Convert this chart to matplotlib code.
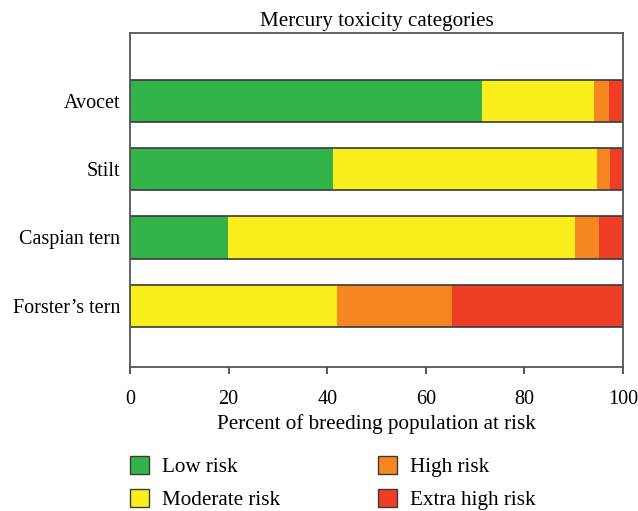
import matplotlib
matplotlib.use("Agg")
import matplotlib.pyplot as plt
from matplotlib.patches import Patch
import numpy as np

species = ["Avocet", "Stilt", "Caspian tern", "Forster\u2019s tern"]
categories = ["Low risk", "Moderate risk", "High risk", "Extra high risk"]
low = [71.4, 41.2, 19.9, 0.0]
moderate = [22.7, 53.5, 70.4, 42.0]
high = [3.1, 2.7, 4.8, 23.3]
extra_high = [2.8, 2.6, 4.9, 34.7]
colors = ["#33b44a", "#fbee1d", "#f68622", "#ef3e26"]
xticks = [0, 20, 40, 60, 80, 100]

plt.rcParams['font.family'] = ['Liberation Serif', 'DejaVu Serif']
FS = 14.5
FS2 = 15.2

fig = plt.figure(figsize=(6.38, 5.11), dpi=100)
ax = fig.add_axes([0.2038, 0.2818, 0.7727, 0.6536])

y = np.arange(len(species))
series = [low, moderate, high, extra_high]
left = np.zeros(len(species))
for vals, col in zip(series, colors):
    ax.barh(y, vals, left=left, height=0.62, color=col, edgecolor='none')
    left = left + np.array(vals)
ax.barh(y, left, height=0.62, fill=False, edgecolor='#3a3a3a', linewidth=1.2)

ax.set_xlim(0, 100)
ax.set_ylim(3.9, -1.0)
ax.set_yticks(y)
ax.set_yticklabels(species, fontsize=FS)
ax.tick_params(axis='y', length=0, pad=7)
ax.set_xticks(xticks)
ax.set_xticklabels([str(t) for t in xticks], fontsize=FS)
ax.tick_params(axis='x', direction='out', length=5, width=1.2, color='#3a3a3a', pad=11.5)
for s in ax.spines.values():
    s.set_color('#555555')
    s.set_linewidth(1.3)

ax.set_title("Mercury toxicity categories", fontsize=FS2, pad=5)
ax.set_xlabel("Percent of breeding population at risk", fontsize=FS2, labelpad=4)

handles = [Patch(facecolor=c, edgecolor='#3a3a3a', linewidth=1.0) for c in colors]
fig.legend(handles, categories, ncol=2, loc='upper left', bbox_to_anchor=(0.191, 0.125),
           frameon=False, fontsize=FS2, handlelength=0.9, handleheight=0.95,
           columnspacing=4.6, handletextpad=0.62, labelspacing=0.55, borderaxespad=0)

fig.savefig("out.png", dpi=100)
